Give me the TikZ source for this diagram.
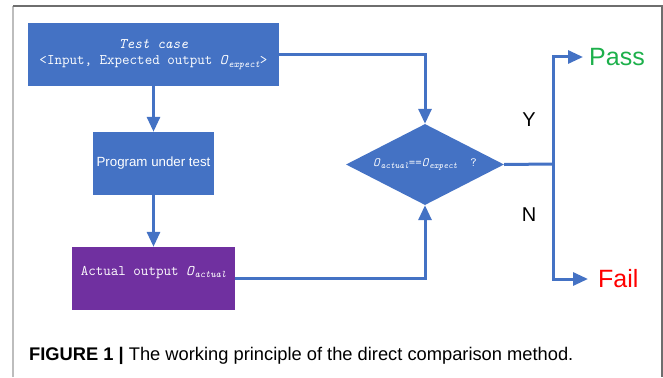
\documentclass[tikz,border=0pt]{standalone}
\usepackage{fontspec}
\setmainfont{Liberation Sans}
\usetikzlibrary{arrows.meta}
\usetikzlibrary{shapes}

\definecolor{boxBlue}{HTML}{4472C4}
\definecolor{boxPurple}{HTML}{7030A0}
\definecolor{passGreen}{HTML}{1DB04B}
\definecolor{failRed}{HTML}{FF0000}
\definecolor{frameDark}{HTML}{6E6E6E}
\definecolor{frameLight}{HTML}{BDBDBD}

\newcommand{\Oname}[2][10]{\textit{O}\raisebox{-0.4ex}{\fontsize{#1}{#1}\selectfont\itshape #2}}

\begin{document}
\begin{tikzpicture}[x = 1pt, y = -1pt]
\tikzstyle{boxStyle} = [shape = rectangle, fill = boxBlue, text = white, inner sep = 2pt, minimum height = 63pt]
\tikzstyle{codeStyle} = [font = \ttfamily\fontsize{14.6}{16}\selectfont]
\tikzstyle{decisionStyle} = [shape = diamond, fill = boxBlue, text = white, inner sep = 0pt, minimum width = 158pt, minimum height = 81pt, aspect = 1.95, font = \ttfamily\fontsize{12.5}{12.5}\selectfont]
\tikzstyle{EdgeStyle} = [draw = boxBlue, line width = 3pt]
\tikzstyle{ArrowStyle} = [EdgeStyle, -{Triangle[length = 15pt, width = 13pt]}]
\tikzstyle{answerStyle} = [inner sep = 0pt, font = \fontsize{20}{20}\selectfont]
\tikzstyle{resultStyle} = [anchor = west, inner ysep = 0pt, font = \fontsize{25}{25}\selectfont]
\useasboundingbox (0,0) rectangle (663,377);
% frame
\draw[frameLight, line width = 1.2pt] (13,377) -- (13,6);
\draw[frameDark, line width = 1.2pt] (13,6) -- (662,6) -- (662,377);
% boxes
\node[boxStyle, codeStyle, align = center, minimum width = 251pt] (test) at (153.5,54.5)
  {\textit{Test case}\\<Input, Expected output \Oname{expect}>};
\node[boxStyle, minimum width = 121pt, font = \fontsize{13.3}{13.3}\selectfont] (prog) at (153.5,163.5) {Program under test};
\node[boxStyle, codeStyle, fill = boxPurple, minimum width = 163pt, text depth = 16pt] (actual) at (153.5,278.5)
  {Actual output \Oname{actual}};
\node[decisionStyle] (dec) at (425,164.5) {\Oname[9]{actual}==\Oname[9]{expect}\ \ ?};
\coordinate (split) at (553,164);
\node[resultStyle, text = passGreen, inner xsep = 6pt] (pass) at (583,57) {Pass};
\node[resultStyle, text = failRed, inner xsep = 10pt] (fail) at (588,279) {Fail};
\node[answerStyle] (yes) at (529,120) {Y};
\node[answerStyle] (no) at (529,215) {N};
% connectors
\draw[ArrowStyle] (test) -- (prog);
\draw[ArrowStyle] (prog) -- (actual);
\draw[ArrowStyle] (test.east) -| (dec.north);
\draw[ArrowStyle] (actual.east) -| (dec.south);
\draw[EdgeStyle] (dec.east) -- (split);
\draw[ArrowStyle] (split) |- (pass.west);
\draw[ArrowStyle] (split) |- (fail.west);
% caption
\node[anchor = west, inner sep = 0pt, font = \fontsize{18.3}{18.3}\selectfont] (caption) at (29,356)
  {\textbf{FIGURE 1 |} The working principle of the direct comparison method.};
\end{tikzpicture}
\end{document}
